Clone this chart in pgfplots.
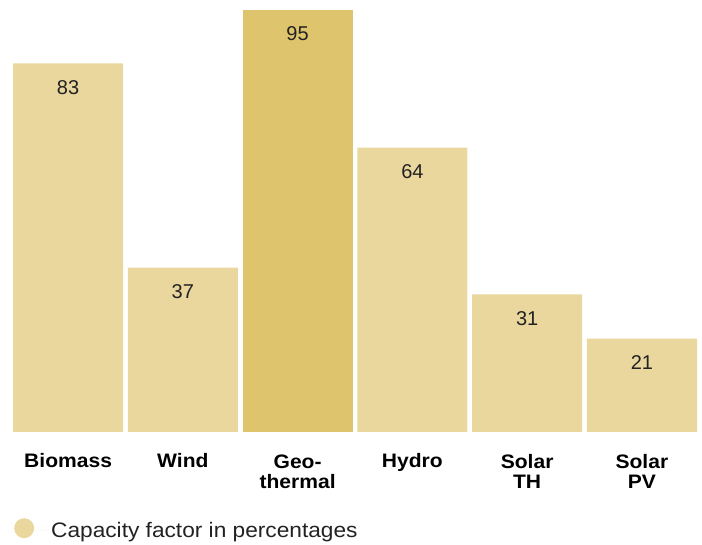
\documentclass[border=0pt]{standalone}
\usepackage{fontspec}
\setmainfont{Liberation Sans}
\newfontfamily\widefont[FakeStretch=1.08]{Liberation Sans}
\usepackage{pgfplots}
\pgfplotsset{compat=1.18}
\definecolor{barlight}{HTML}{EAD79E}
\definecolor{bargeo}{HTML}{DEC46D}
\definecolor{txt}{HTML}{222222}
\begin{document}
\begin{tikzpicture}
\begin{axis}[
  scale only axis, width=684pt, height=422pt,
  xmin=-0.48, xmax=5.48, ymin=0, ymax=95,
  axis line style={draw=none},
  /pgf/number format/assume math mode=true,
  ybar, bar width=0.96, bar shift=0pt,
  xtick={0,1,2,3,4,5}, ytick=\empty, major tick length=0pt,
  xticklabels={Biomass, Wind, {\rule{0pt}{15.5pt}Geo-\\thermal}, Hydro, {\rule{0pt}{15.5pt}Solar\\TH}, {\rule{0pt}{15.5pt}Solar\\PV}},
  xticklabel style={font=\widefont\bfseries\fontsize{19.5}{19.5}\selectfont, align=center, text=black, yshift=-17.5pt},
  nodes near coords,
  nodes near coords style={font=\fontsize{20}{20}\selectfont, text=txt, anchor=center, yshift=-24pt},
  legend style={draw=none, fill=none, at={(rel axis cs:0,0)}, anchor=north west, xshift=-2pt, yshift=-84pt, font=\widefont\fontsize{21}{24}\selectfont, text=txt, legend cell align=left},
]
\addplot[fill=barlight, draw=none, legend image code/.code={\fill[barlight] (0pt,2pt) circle (10pt); \path (10pt,0pt) -- (25pt,0pt);}]
  coordinates {(0,83) (1,37) (3,64) (4,31) (5,21)};
\addlegendentry{Capacity factor in percentages}
\addplot[fill=bargeo, draw=none, forget plot] coordinates {(2,95)};
\end{axis}
\path ([shift={(-13pt,-113pt)}]current axis.south west) rectangle ++(702pt,545pt);
\end{tikzpicture}
\end{document}
